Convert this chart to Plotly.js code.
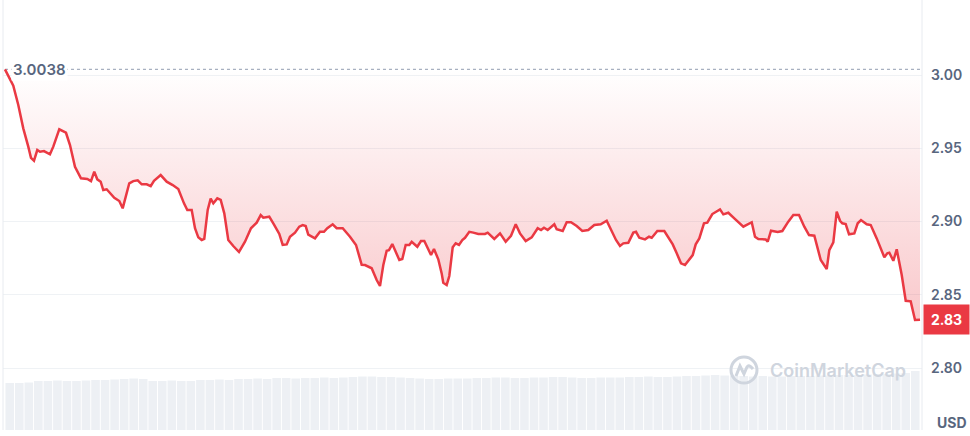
<!DOCTYPE html>
<html>
<head>
<meta charset="utf-8">
<script src="https://cdn.plot.ly/plotly-3.0.1.min.js"></script>
<style>
  html, body { margin: 0; padding: 0; background: #ffffff; }
  #chart { width: 970px; height: 436px; }
</style>
</head>
<body>
<div id="chart"></div>
<script>
// ---- data ----
const openPrice = 3.0038;
const lastPrice = 2.8330;

const hours = [
  0, 0.218, 0.349, 0.480, 0.611, 0.682, 0.761, 0.847, 0.918, 1.023,
  1.180, 1.267, 1.424, 1.600, 1.705, 1.836, 1.993, 2.159, 2.256, 2.342,
  2.421, 2.510, 2.578, 2.667, 2.867, 2.998, 3.087, 3.260, 3.365, 3.481,
  3.586, 3.717, 3.822, 3.908, 4.084, 4.241, 4.399, 4.546, 4.695, 4.782,
  4.897, 4.984, 5.070, 5.159, 5.227, 5.317, 5.395, 5.464, 5.569, 5.658,
  5.752, 5.857, 5.988, 6.138, 6.295, 6.452, 6.602, 6.707, 6.775, 6.932,
  7.064, 7.195, 7.284, 7.389, 7.475, 7.607, 7.719, 7.808, 7.887, 7.955,
  8.131, 8.262, 8.367, 8.454, 8.595, 8.700, 8.858, 9.049, 9.207, 9.356,
  9.443, 9.618, 9.749, 9.836, 9.923, 10.012, 10.072, 10.159, 10.248, 10.343,
  10.421, 10.510, 10.605, 10.668, 10.815, 10.911, 10.998, 11.087, 11.174, 11.252,
  11.365, 11.454, 11.496, 11.585, 11.654, 11.743, 11.822, 11.908, 11.995, 12.066,
  12.178, 12.283, 12.414, 12.590, 12.661, 12.834, 12.984, 13.133, 13.272, 13.396,
  13.508, 13.658, 13.815, 13.972, 14.059, 14.138, 14.235, 14.408, 14.470, 14.628,
  14.733, 14.846, 14.995, 15.142, 15.299, 15.457, 15.625, 15.782, 15.913, 16.026,
  16.131, 16.218, 16.349, 16.480, 16.551, 16.637, 16.787, 16.892, 16.963, 17.110,
  17.293, 17.372, 17.514, 17.619, 17.731, 17.836, 17.949, 18.038, 18.117, 18.211,
  18.334, 18.421, 18.552, 18.754, 18.841, 18.972, 19.129, 19.261, 19.366, 19.586,
  19.672, 19.759, 19.953, 20.005, 20.092, 20.267, 20.388, 20.545, 20.677, 20.826,
  20.965, 21.089, 21.228, 21.396, 21.553, 21.621, 21.726, 21.815, 21.902, 21.962,
  22.051, 22.138, 22.277, 22.366, 22.452, 22.602, 22.707, 22.864, 23.064, 23.142,
  23.195, 23.300, 23.389, 23.520, 23.625, 23.756, 23.869, 24.0
];

const prices = [
  3.0038, 2.9927, 2.9795, 2.9636, 2.9511, 2.9435, 2.9415, 2.9488, 2.9476, 2.9481,
  2.9459, 2.9511, 2.9629, 2.9606, 2.9522, 2.9374, 2.9295, 2.9290, 2.9276, 2.9340,
  2.9288, 2.9272, 2.9215, 2.9220, 2.9162, 2.9140, 2.9090, 2.9261, 2.9276, 2.9281,
  2.9254, 2.9254, 2.9242, 2.9278, 2.9317, 2.9272, 2.9249, 2.9222, 2.9124, 2.9079,
  2.9079, 2.8954, 2.8892, 2.8874, 2.8881, 2.9079, 2.9156, 2.9124, 2.9158, 2.9147,
  2.9056, 2.8874, 2.8833, 2.8792, 2.8862, 2.8954, 2.8992, 2.9044, 2.9026, 2.9033,
  2.8976, 2.8915, 2.8840, 2.8844, 2.8896, 2.8924, 2.8965, 2.8976, 2.8969, 2.8910,
  2.8885, 2.8930, 2.8930, 2.8954, 2.8981, 2.8954, 2.8954, 2.8896, 2.8840, 2.8705,
  2.8703, 2.8681, 2.8601, 2.8560, 2.8703, 2.8801, 2.8805, 2.8846, 2.8794, 2.8737,
  2.8744, 2.8840, 2.8840, 2.8862, 2.8828, 2.8867, 2.8867, 2.8817, 2.8771, 2.8812,
  2.8742, 2.8646, 2.8582, 2.8567, 2.8628, 2.8824, 2.8851, 2.8840, 2.8874, 2.8889,
  2.8930, 2.8924, 2.8915, 2.8915, 2.8924, 2.8881, 2.8919, 2.8862, 2.8903, 2.8981,
  2.8919, 2.8867, 2.8892, 2.8954, 2.8942, 2.8958, 2.8942, 2.8981, 2.8947, 2.8935,
  2.8995, 2.8995, 2.8969, 2.8935, 2.8942, 2.8976, 2.8981, 2.9005, 2.8937, 2.8874,
  2.8833, 2.8851, 2.8855, 2.8924, 2.8930, 2.8889, 2.8878, 2.8896, 2.8889, 2.8935,
  2.8935, 2.8901, 2.8844, 2.8783, 2.8715, 2.8703, 2.8737, 2.8771, 2.8844, 2.8885,
  2.8988, 2.8992, 2.9051, 2.9083, 2.9049, 2.9060, 2.9022, 2.8992, 2.8965, 2.8995,
  2.8896, 2.8881, 2.8878, 2.8862, 2.8937, 2.8928, 2.8935, 2.8999, 2.9044, 2.9044,
  2.8965, 2.8908, 2.8903, 2.8737, 2.8676, 2.8805, 2.8858, 2.9067, 2.9005, 2.8988,
  2.8983, 2.8913, 2.8919, 2.8988, 2.9010, 2.8981, 2.8976, 2.8885, 2.8756, 2.8783,
  2.8787, 2.8732, 2.8810, 2.8635, 2.8459, 2.8455, 2.8328, 2.8330
];

// relative volume, one bar per 15 minutes
const volume = [
  0.94, 0.94, 0.95, 0.98, 0.98, 0.99, 0.98, 0.98, 0.99, 1.00,
  1.00, 1.01, 1.02, 1.03, 1.02, 0.98, 0.98, 0.99, 0.98, 0.98,
  1.00, 1.00, 1.01, 1.00, 1.02, 1.02, 1.03, 1.02, 1.04, 1.04,
  1.03, 1.04, 1.04, 1.05, 1.04, 1.05, 1.06, 1.07, 1.07, 1.06,
  1.06, 1.05, 1.04, 1.03, 1.02, 1.02, 1.03, 1.03, 1.03, 1.04,
  1.04, 1.05, 1.05, 1.04, 1.04, 1.05, 1.05, 1.06, 1.06, 1.05,
  1.04, 1.04, 1.05, 1.05, 1.05, 1.06, 1.06, 1.07, 1.06, 1.06,
  1.07, 1.08, 1.08, 1.09, 1.10, 1.09, 1.08, 1.08, 1.07, 1.08,
  1.07, 1.07, 1.08, 1.08, 1.08, 1.09, 1.09, 1.10, 1.10, 1.10,
  1.11, 1.12, 1.12, 1.13, 1.14, 1.18
];
const volumeTimes = volume.map((_, i) => i * 0.25 + 0.125);

const yTickVals = [2.80, 2.85, 2.90, 2.95, 3.00];
const yTickText = ['2.80', '2.85', '2.90', '2.95', '3.00'];

// ---- styling ----
const RED = '#ea3943';
const GREY_TEXT = '#58667e';
const GRID = '#eff2f5';

const traces = [
  {
    type: 'bar', x: volumeTimes, y: volume, yaxis: 'y2', xaxis: 'x',
    marker: { color: '#edf0f4', line: { width: 0 } },
    hoverinfo: 'skip', showlegend: false
  },
  {
    type: 'scatter', mode: 'lines', x: [0, 24], y: [openPrice, openPrice],
    line: { color: '#a7b0c0', width: 1.2, dash: 'dot' },
    hoverinfo: 'skip', showlegend: false
  },
  {
    type: 'scatter', mode: 'lines', x: hours, y: prices,
    line: { color: RED, width: 2.5 },
    fill: 'tonexty',
    fillgradient: {
      type: 'vertical',
      start: 2.83, stop: openPrice,
      colorscale: [[0, 'rgba(234,57,67,0.28)'], [1, 'rgba(234,57,67,0.0)']]
    },
    hoverinfo: 'skip', showlegend: false
  }
];

const layout = {
  width: 970, height: 436,
  margin: { l: 3, r: 48, t: 0, b: 6 },
  paper_bgcolor: '#ffffff', plot_bgcolor: '#ffffff',
  showlegend: false,
  bargap: 0.1,
  xaxis: {
    range: [-0.052, 24.052],
    showgrid: false, zeroline: false, showticklabels: false, showline: false, ticks: ''
  },
  yaxis: {
    range: [2.7577, 3.0512],
    side: 'right',
    tickvals: yTickVals, ticktext: yTickText,
    showgrid: true, gridcolor: GRID, gridwidth: 1,
    zeroline: false, showline: false, ticks: '',
    ticklabelstandoff: 8,
    tickfont: { family: 'Inter, sans-serif', size: 14, color: GREY_TEXT, weight: 600 }
  },
  yaxis2: {
    overlaying: 'y', range: [0, 8.6],
    showgrid: false, zeroline: false, showticklabels: false, showline: false
  },
  shapes: [
    { type: 'line', xref: 'paper', yref: 'paper', x0: 0, x1: 0, y0: 0, y1: 1,
      line: { color: '#e8ebf0', width: 1 } },
    { type: 'line', xref: 'paper', yref: 'paper', x0: 1, x1: 1, y0: 0, y1: 1,
      line: { color: '#e8ebf0', width: 1 } },
    // watermark logo circle
    { type: 'circle', xref: 'paper', yref: 'paper',
      xsizemode: 'pixel', ysizemode: 'pixel',
      xanchor: 0.8063, yanchor: 0.1395,
      x0: -13, x1: 13, y0: -13, y1: 13,
      line: { color: '#cfd5de', width: 3 } },
    { type: 'path', xref: 'paper', yref: 'paper',
      xsizemode: 'pixel', ysizemode: 'pixel',
      xanchor: 0.8063, yanchor: 0.1395,
      path: 'M -8 -6 L -4 4 L 0 -4 L 3 3 Q 5 6 9 1',
      line: { color: '#cfd5de', width: 3 } }
  ],
  annotations: [
    { xref: 'paper', yref: 'y', x: 0.0087, y: openPrice, xanchor: 'left', yanchor: 'middle',
      text: '3.0038', showarrow: false, bgcolor: '#ffffff', borderpad: 1,
      font: { family: 'Inter, sans-serif', size: 15, color: GREY_TEXT, weight: 600 } },
    { xref: 'paper', yref: 'y', x: 1, y: lastPrice, xanchor: 'left', yanchor: 'middle',
      xshift: 1, text: '<b>2.83</b>', showarrow: false,
      bgcolor: RED, width: 41, height: 25, borderpad: 2,
      font: { family: 'Inter, sans-serif', size: 14, color: '#ffffff' } },
    { xref: 'paper', yref: 'paper', x: 1, y: 0.0186, xanchor: 'left', yanchor: 'middle',
      xshift: 13, text: '<b>USD</b>', showarrow: false,
      font: { family: 'Inter, sans-serif', size: 14, color: GREY_TEXT } },
    { xref: 'paper', yref: 'paper', x: 0.8324, y: 0.1395, xanchor: 'left', yanchor: 'middle',
      text: 'CoinMarketCap', showarrow: false,
      font: { family: 'Inter, sans-serif', size: 18, color: '#cfd5de', weight: 600 } }
  ]
};

Plotly.newPlot('chart', traces, layout, { staticPlot: true, displayModeBar: false });
</script>
</body>
</html>
